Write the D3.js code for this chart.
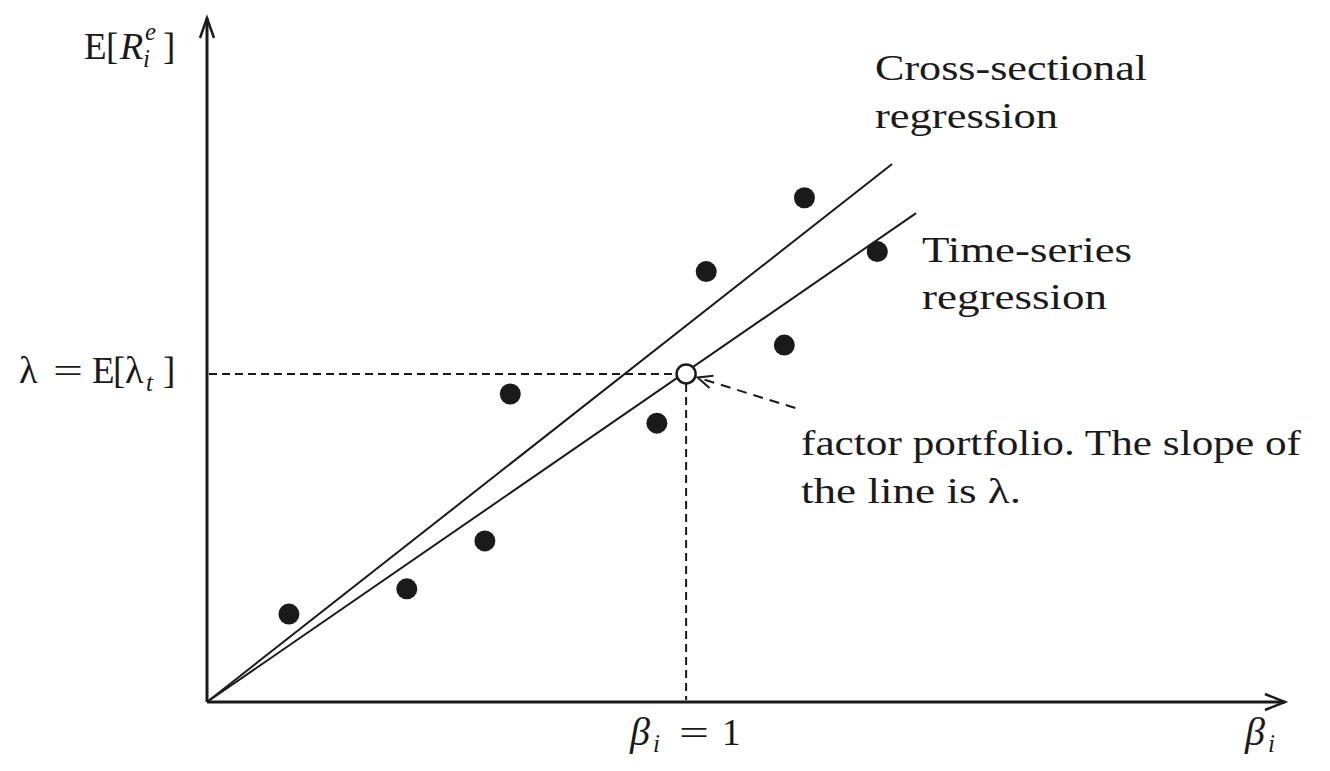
<!DOCTYPE html>
<html>
<head>
<meta charset="utf-8">
<script src="https://cdn.jsdelivr.net/npm/d3@7"></script>
<style>
  body { margin: 0; background: #fff; }
  svg text { font-family: "Liberation Serif", "DejaVu Serif", serif; fill: #1a1a1a; }
</style>
</head>
<body>
<div id="chart"></div>
<script>
// asset betas and average excess returns (factor portfolio units)
const betas   = [0.171, 0.417, 0.580, 0.633, 0.939, 1.042, 1.205, 1.247, 1.399];
const returns = [0.268, 0.345, 0.491, 0.939, 0.850, 1.312, 1.088, 1.537, 1.373];

// factor portfolio: beta = 1, mean = lambda
const factorPoint = [1, 1];

// regression lines through the origin
const csLine = [[0, 0], [1.43, 1.64]];
const tsLine = [[0, 0], [1.48, 1.49]];

// start of the dashed annotation arrow
const noteStart = [1.228, 0.896];

const axisMax = [2.25, 2.085];

const width = 1330, height = 771;
const x0 = 207, y0 = 702;

const svg = d3.select('#chart')
    .append('svg')
    .attr('width', width)
    .attr('height', height);

const x = d3.scaleLinear().domain([0, axisMax[0]]).range([x0, 1285]);
const y = d3.scaleLinear().domain([0, axisMax[1]]).range([y0, 18]);

const ink = '#1a1a1a';

// axes
svg.append('line')
    .attr('x1', x(0)).attr('y1', y(0))
    .attr('x2', x(axisMax[0])).attr('y2', y(0))
    .attr('stroke', ink).attr('stroke-width', 3);
svg.append('line')
    .attr('x1', x(0)).attr('y1', y(0))
    .attr('x2', x(0)).attr('y2', y(axisMax[1]))
    .attr('stroke', ink).attr('stroke-width', 3);

// arrow heads (open chevrons)
const tipX = x(axisMax[0]), tipY = y(axisMax[1]);
svg.append('path')
    .attr('d', `M${tipX - 20},${y0 - 8} L${tipX},${y0} L${tipX - 20},${y0 + 8}`)
    .attr('fill', 'none').attr('stroke', ink).attr('stroke-width', 2.5);
svg.append('path')
    .attr('d', `M${x0 - 7},${tipY + 20} L${x0},${tipY} L${x0 + 7},${tipY + 20}`)
    .attr('fill', 'none').attr('stroke', ink).attr('stroke-width', 2.5);

// dashed guides to the factor portfolio
svg.append('line')
    .attr('x1', x(0) + 2).attr('y1', y(factorPoint[1]))
    .attr('x2', x(factorPoint[0]) - 10).attr('y2', y(factorPoint[1]))
    .attr('stroke', ink).attr('stroke-width', 2)
    .attr('stroke-dasharray', '8,5');
svg.append('line')
    .attr('x1', x(factorPoint[0])).attr('y1', y(factorPoint[1]) + 10)
    .attr('x2', x(factorPoint[0])).attr('y2', y(0) - 2)
    .attr('stroke', ink).attr('stroke-width', 2)
    .attr('stroke-dasharray', '8,5');

// regression lines
const line = d3.line().x(d => x(d[0])).y(d => y(d[1]));
[csLine, tsLine].forEach(l => {
    svg.append('path')
        .attr('d', line(l))
        .attr('fill', 'none')
        .attr('stroke', ink)
        .attr('stroke-width', 2);
});

// assets
svg.selectAll('.asset')
    .data(betas)
    .enter()
    .append('circle')
    .attr('class', 'asset')
    .attr('cx', d => x(d))
    .attr('cy', (d, i) => y(returns[i]))
    .attr('r', 10.5)
    .attr('fill', ink);

// factor portfolio (open circle)
svg.append('circle')
    .attr('cx', x(factorPoint[0]))
    .attr('cy', y(factorPoint[1]))
    .attr('r', 9.5)
    .attr('fill', '#fff')
    .attr('stroke', ink)
    .attr('stroke-width', 2.5);

// dashed annotation arrow
const sx = x(noteStart[0]), sy = y(noteStart[1]);
const fx = x(factorPoint[0]), fy = y(factorPoint[1]);
const ang = Math.atan2(fy - sy, fx - sx);
const ex = fx - Math.cos(ang) * 12, ey = fy - Math.sin(ang) * 12;
svg.append('line')
    .attr('x1', sx).attr('y1', sy)
    .attr('x2', ex).attr('y2', ey)
    .attr('stroke', ink).attr('stroke-width', 2)
    .attr('stroke-dasharray', '10,7');
const hl = 16, hw = 0.42;
svg.append('path')
    .attr('d', `M${ex - hl * Math.cos(ang - hw)},${ey - hl * Math.sin(ang - hw)} L${ex},${ey} L${ex - hl * Math.cos(ang + hw)},${ey - hl * Math.sin(ang + hw)}`)
    .attr('fill', 'none').attr('stroke', ink).attr('stroke-width', 2);

// text: each piece placed on its own, stretched toward the wider TeX glyph widths
function piece(p) {
    const t = svg.append('text')
        .attr('x', p.x).attr('y', p.y)
        .attr('font-size', p.size + 'px')
        .text(p.t);
    if (p.it) t.attr('font-style', 'italic');
    if (p.len) t.attr('textLength', p.len).attr('lengthAdjust', 'spacingAndGlyphs');
    return t;
}

// y-axis title E[R_i^e]
[
    {t: 'E', x: 84, y: 59, size: 37},
    {t: '[', x: 106, y: 59, size: 37},
    {t: 'R', x: 120, y: 59, size: 38, it: true},
    {t: 'e', x: 145, y: 40, size: 25, it: true},
    {t: 'i', x: 143, y: 67, size: 25, it: true},
    {t: ']', x: 163, y: 59, size: 37}
].forEach(piece);

// lambda = E[lambda_t]
[
    {t: 'λ', x: 19, y: 383, size: 38},
    {t: '=', x: 53, y: 383, size: 36, len: 30},
    {t: 'E', x: 92, y: 383, size: 37},
    {t: '[', x: 113, y: 383, size: 37},
    {t: 'λ', x: 125, y: 383, size: 38},
    {t: 't', x: 146, y: 391, size: 25, it: true},
    {t: ']', x: 163, y: 383, size: 37}
].forEach(piece);

// beta_i = 1
[
    {t: 'β', x: 630, y: 745, size: 40, it: true},
    {t: 'i', x: 653, y: 752, size: 25, it: true},
    {t: '=', x: 679, y: 745, size: 36, len: 30},
    {t: '1', x: 722, y: 745, size: 37}
].forEach(piece);

// beta_i axis label
[
    {t: 'β', x: 1245, y: 745, size: 40, it: true},
    {t: 'i', x: 1268, y: 752, size: 25, it: true}
].forEach(piece);

// line labels and note
[
    {t: 'Cross-sectional', x: 875, y: 80, size: 35, len: 272},
    {t: 'regression', x: 875, y: 128, size: 35, len: 183},
    {t: 'Time-series', x: 922, y: 262, size: 35, len: 210},
    {t: 'regression', x: 922, y: 309, size: 35, len: 185},
    {t: 'factor portfolio. The slope of', x: 801, y: 455, size: 35, len: 500},
    {t: 'the line is λ.', x: 801, y: 503, size: 35, len: 220}
].forEach(piece);
</script>
</body>
</html>
